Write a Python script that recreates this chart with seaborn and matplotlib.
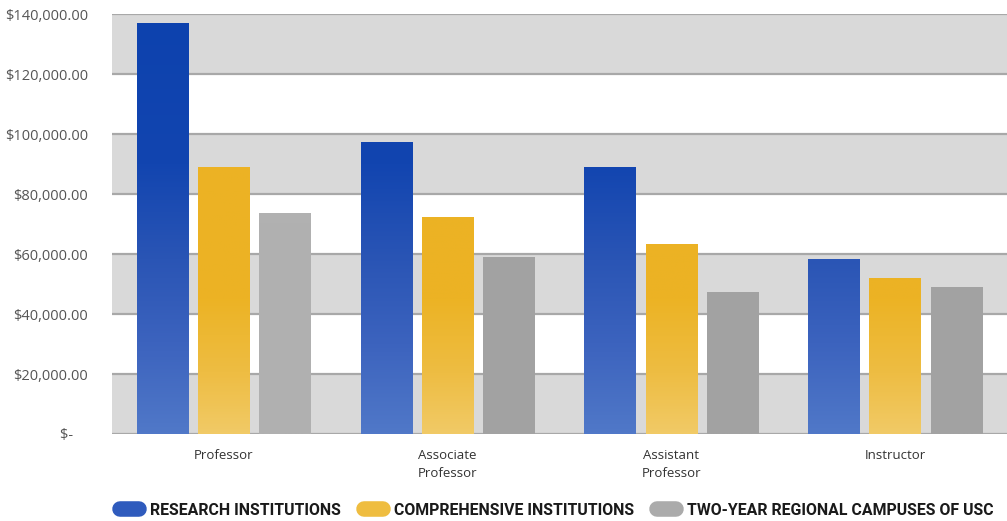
import numpy as np
import pandas as pd
import matplotlib
matplotlib.use("Agg")
import matplotlib.pyplot as plt
import seaborn as sns
from matplotlib.colors import LinearSegmentedColormap
from matplotlib.patches import Rectangle
from matplotlib.lines import Line2D

# Average faculty salaries by rank and institution type
ranks = ["Professor", "Associate\nProfessor", "Assistant\nProfessor", "Instructor"]
research = [136700, 97300, 88900, 58100]
comprehensive = [88800, 72300, 63200, 51800]
two_year = [73400, 58700, 47200, 49000]
series_names = ["RESEARCH INSTITUTIONS", "COMPREHENSIVE INSTITUTIONS",
                "TWO-YEAR REGIONAL CAMPUSES OF USC"]
y_ticks = [0, 20000, 40000, 60000, 80000, 100000, 120000, 140000]
y_labels = ["$-    ", "$20,000.00", "$40,000.00", "$60,000.00", "$80,000.00",
            "$100,000.00", "$120,000.00", "$140,000.00"]

df = pd.DataFrame({
    "rank": ranks * 3,
    "salary": research + comprehensive + two_year,
    "type": [series_names[0]] * 4 + [series_names[1]] * 4 + [series_names[2]] * 4,
})

sns.set_theme(style="white")
plt.rcParams["font.family"] = ["Open Sans", "DejaVu Sans"]

fig = plt.figure(figsize=(10.07, 5.21), dpi=100)
ax = fig.add_axes([0.111, 0.167, 0.889, 0.806])

YMAX = 140000

base_colors = ["#2c57b7", "#ecb324", "#a3a3a3"]
sns.barplot(data=df, x="rank", y="salary", hue="type", hue_order=series_names,
            palette=base_colors, width=0.82, gap=0.16, ax=ax, legend=False,
            zorder=2, linewidth=0, saturation=1)
ax.set_xlim(-0.5, 3.5)
ax.set_ylim(0, YMAX)

# alternating background bands, spanning the full width of the axes
band_tf = ax.get_yaxis_transform()
for lo in (0, 40000, 80000, 120000):
    ax.add_patch(Rectangle((0, lo), 1, 20000, transform=band_tf,
                           facecolor="#d9d9d9", lw=0, zorder=0))
for t in y_ticks:
    ax.axhline(t, color="#a8a8a8", lw=1.6, zorder=1)

# vertical colour ramps tied to the value axis
blue_cmap = LinearSegmentedColormap.from_list("blue_ramp", [
    (0.0, "#5078c8"), (30000 / YMAX, "#3c63be"), (58000 / YMAX, "#2a55b5"),
    (90000 / YMAX, "#1245b0"), (1.0, "#0d42ae")])
gold_cmap = LinearSegmentedColormap.from_list("gold_ramp", [
    (0.0, "#f1ca66"), (20000 / YMAX, "#eebd43"), (45000 / YMAX, "#ecb324"),
    (1.0, "#ecb224")])
gray_cmap = LinearSegmentedColormap.from_list("gray_ramp", ["#a2a2a2", "#a4a4a4"])
gray_light = LinearSegmentedColormap.from_list("gray_light", ["#b0b0b0", "#b2b2b2"])
cmaps = [blue_cmap, gold_cmap, gray_cmap]

# fill each bar with the part of the ramp that lies below its top
for ci, cont in enumerate(ax.containers):
    for bi, bar in enumerate(cont):
        x0 = bar.get_x()
        x1 = x0 + bar.get_width()
        top = bar.get_height()
        cm = gray_light if (ci == 2 and bi == 0) else cmaps[ci]
        ramp = np.linspace(0, top / YMAX, 256).reshape(-1, 1)
        ax.imshow(ramp, extent=[x0, x1, 0, top], origin="lower",
                  aspect="auto", cmap=cm, vmin=0, vmax=1, zorder=3)

ax.set_xlim(-0.5, 3.5)
ax.set_ylim(0, YMAX)
ax.set_yticks(y_ticks)
ax.set_yticklabels(y_labels)
ax.tick_params(axis="y", length=0, pad=17, labelsize=10.5, labelcolor="#555555")
ax.tick_params(axis="x", length=0, pad=11, labelsize=9.5, labelcolor="#333333")
for lab in ax.get_xticklabels():
    lab.set_linespacing(1.5)
ax.set_xlabel("")
ax.set_ylabel("")
for s in ax.spines.values():
    s.set_visible(False)

# legend with rounded pill markers
pill_colors = ["#2f5bbd", "#efbd40", "#ababab"]
handles = [Line2D([0, 1], [0, 0], color=c, lw=11.2, solid_capstyle="round")
           for c in pill_colors]
fig.legend(handles, series_names, loc="center",
           bbox_to_anchor=(0.553, 0.021), ncol=3, frameon=False,
           prop={"family": ["Roboto", "DejaVu Sans"], "weight": "bold", "size": 11.4},
           handlelength=1.2, handletextpad=0.65, columnspacing=1.5,
           labelcolor="#1a1a1a")

fig.savefig("out.png", dpi=100)
